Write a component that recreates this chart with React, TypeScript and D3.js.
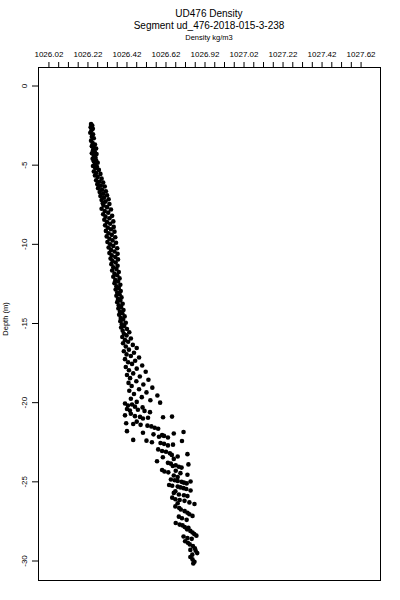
import React from "react";
import * as d3 from "d3";

// density profile, [depth m, density kg/m3]
const profileTop: [number, number][] = [
  [-2.4, 1026.236], [-2.5, 1026.242], [-2.6, 1026.234], [-2.7, 1026.245], [-2.8, 1026.238],
  [-2.95, 1026.232], [-3.05, 1026.246], [-3.2, 1026.24], [-3.3, 1026.25], [-3.45, 1026.236],
  [-3.6, 1026.244], [-3.7, 1026.256], [-3.8, 1026.24], [-3.9, 1026.25], [-3.95, 1026.262],
  [-4.05, 1026.246], [-4.15, 1026.255], [-4.25, 1026.24], [-4.3, 1026.264], [-4.4, 1026.25],
  [-4.5, 1026.258], [-4.6, 1026.244], [-4.7, 1026.262], [-4.75, 1026.25], [-4.85, 1026.27],
  [-4.95, 1026.255], [-5.05, 1026.246], [-5.1, 1026.266], [-5.2, 1026.258], [-5.3, 1026.276],
  [-5.4, 1026.25], [-5.5, 1026.262], [-5.55, 1026.284], [-5.65, 1026.256], [-5.75, 1026.27],
  [-5.85, 1026.29], [-5.95, 1026.262], [-6.05, 1026.278], [-6.1, 1026.298], [-6.2, 1026.268],
  [-6.3, 1026.286], [-6.35, 1026.306], [-6.45, 1026.272], [-6.55, 1026.292], [-6.65, 1026.312],
  [-6.7, 1026.28], [-6.8, 1026.298], [-6.9, 1026.318], [-6.95, 1026.284], [-7.05, 1026.302],
  [-7.15, 1026.326], [-7.2, 1026.29], [-7.3, 1026.31], [-7.4, 1026.296], [-7.45, 1026.33],
  [-7.55, 1026.3], [-7.65, 1026.318], [-7.75, 1026.29], [-7.8, 1026.338], [-7.9, 1026.306],
  [-8.0, 1026.324], [-8.1, 1026.298], [-8.2, 1026.344], [-8.25, 1026.31], [-8.35, 1026.33],
  [-8.45, 1026.304], [-8.55, 1026.35], [-8.6, 1026.318], [-8.7, 1026.334], [-8.8, 1026.308],
  [-8.9, 1026.352], [-8.95, 1026.322], [-9.05, 1026.338], [-9.15, 1026.312], [-9.2, 1026.356],
  [-9.3, 1026.326], [-9.4, 1026.342], [-9.5, 1026.316], [-9.55, 1026.36], [-9.65, 1026.33],
  [-9.75, 1026.346], [-9.85, 1026.32], [-9.9, 1026.364], [-10.0, 1026.334], [-10.1, 1026.35],
  [-10.2, 1026.326], [-10.25, 1026.37], [-10.35, 1026.338], [-10.45, 1026.356], [-10.55, 1026.33],
  [-10.6, 1026.372], [-10.7, 1026.342], [-10.8, 1026.36], [-10.9, 1026.336], [-10.95, 1026.374],
  [-11.05, 1026.346],
];

const profileMid: [number, number][] = [
  [-11.15, 1026.362], [-11.25, 1026.34], [-11.35, 1026.372], [-11.45, 1026.35], [-11.55, 1026.366],
  [-11.65, 1026.344], [-11.75, 1026.378], [-11.85, 1026.356], [-11.95, 1026.37], [-12.05, 1026.35],
  [-12.15, 1026.382], [-12.25, 1026.36], [-12.35, 1026.374], [-12.45, 1026.356], [-12.55, 1026.386],
  [-12.65, 1026.366], [-12.75, 1026.378], [-12.85, 1026.362], [-12.95, 1026.388], [-13.05, 1026.37],
  [-13.15, 1026.382], [-13.25, 1026.366], [-13.35, 1026.392], [-13.45, 1026.374], [-13.55, 1026.386],
  [-13.65, 1026.37], [-13.75, 1026.398], [-13.85, 1026.378], [-13.95, 1026.39], [-14.05, 1026.376],
  [-14.15, 1026.402], [-14.25, 1026.384], [-14.35, 1026.396], [-14.45, 1026.38], [-14.55, 1026.408],
  [-14.65, 1026.388], [-14.75, 1026.4], [-14.85, 1026.386], [-14.95, 1026.414], [-15.05, 1026.394],
  [-15.15, 1026.406], [-15.25, 1026.39], [-15.35, 1026.42], [-15.45, 1026.398], [-15.55, 1026.432],
  [-15.65, 1026.404], [-15.75, 1026.418], [-15.85, 1026.396], [-15.95, 1026.44], [-16.05, 1026.41],
  [-16.15, 1026.426], [-16.25, 1026.4], [-16.35, 1026.45], [-16.45, 1026.414], [-16.55, 1026.47],
  [-16.65, 1026.43], [-16.75, 1026.404], [-16.85, 1026.456], [-16.95, 1026.418], [-17.05, 1026.44],
  [-17.15, 1026.482], [-17.25, 1026.41], [-17.35, 1026.462], [-17.45, 1026.426], [-17.55, 1026.446],
  [-17.65, 1026.498], [-17.75, 1026.414], [-17.85, 1026.47], [-17.95, 1026.43], [-18.05, 1026.516],
  [-18.15, 1026.452], [-18.25, 1026.42], [-18.35, 1026.486], [-18.45, 1026.436], [-18.55, 1026.53],
  [-18.65, 1026.468], [-18.75, 1026.428], [-18.85, 1026.504], [-18.95, 1026.444], [-19.05, 1026.55],
  [-19.15, 1026.482], [-19.25, 1026.432], [-19.35, 1026.52], [-19.45, 1026.456], [-19.55, 1026.576],
  [-19.65, 1026.496], [-19.75, 1026.44], [-19.85, 1026.54], [-19.95, 1026.47], [-20.0, 1026.59],
];

const profileDeep: [number, number][] = [
  [-20.05, 1026.41], [-20.12, 1026.446], [-20.18, 1026.425], [-20.25, 1026.461], [-20.3, 1026.5],
  [-20.4, 1026.42], [-20.45, 1026.476], [-20.5, 1026.435], [-20.52, 1026.51], [-20.6, 1026.538],
  [-20.8, 1026.41], [-20.85, 1026.461], [-20.9, 1026.487], [-20.7, 1026.44], [-20.95, 1026.528],
  [-20.92, 1026.605], [-20.88, 1026.651], [-21.0, 1026.502],
  [-21.3, 1026.416], [-21.35, 1026.452], [-21.2, 1026.47], [-21.45, 1026.525], [-21.5, 1026.545],
  [-21.58, 1026.562], [-21.65, 1026.58], [-21.4, 1026.49],
  [-21.8, 1026.42], [-21.9, 1026.502], [-22.0, 1026.556], [-22.05, 1026.6], [-22.1, 1026.61],
  [-22.2, 1026.63], [-21.95, 1026.66], [-21.85, 1026.71], [-22.15, 1026.584],
  [-22.35, 1026.452], [-22.4, 1026.52], [-22.5, 1026.548], [-22.55, 1026.592], [-22.6, 1026.61],
  [-22.7, 1026.63], [-22.42, 1026.702], [-22.65, 1026.656],
  [-22.95, 1026.58], [-23.05, 1026.6], [-23.1, 1026.62], [-23.2, 1026.64], [-23.3, 1026.65],
  [-23.4, 1026.68], [-23.25, 1026.73], [-23.45, 1026.604], [-23.55, 1026.66],
  [-23.7, 1026.574], [-23.8, 1026.63], [-23.85, 1026.645], [-23.95, 1026.67], [-24.05, 1026.686],
  [-24.1, 1026.7], [-23.9, 1026.735], [-24.0, 1026.655],
  [-24.25, 1026.6], [-24.35, 1026.612], [-24.4, 1026.632], [-24.3, 1026.67], [-24.45, 1026.694],
  [-24.55, 1026.73], [-24.6, 1026.66], [-24.7, 1026.68],
  [-24.85, 1026.645], [-24.9, 1026.665], [-24.95, 1026.68], [-25.0, 1026.7], [-25.05, 1026.712],
  [-25.1, 1026.726], [-24.98, 1026.746],
  [-25.2, 1026.636], [-25.25, 1026.652], [-25.3, 1026.68], [-25.35, 1026.694], [-25.4, 1026.71],
  [-25.45, 1026.724], [-25.55, 1026.746], [-25.6, 1026.668],
  [-25.7, 1026.66], [-25.8, 1026.686], [-25.85, 1026.712], [-25.9, 1026.73],
  [-26.0, 1026.652], [-26.1, 1026.668], [-26.15, 1026.69], [-26.2, 1026.715], [-26.3, 1026.74],
  [-26.4, 1026.766], [-26.35, 1026.68],
  [-26.55, 1026.668], [-26.65, 1026.688], [-26.75, 1026.696], [-26.85, 1026.716], [-26.95, 1026.73],
  [-27.05, 1026.74], [-27.15, 1026.756], [-27.3, 1026.702], [-27.4, 1026.726], [-27.2, 1026.686],
  [-27.6, 1026.67], [-27.7, 1026.69], [-27.75, 1026.705], [-27.85, 1026.716], [-27.9, 1026.735],
  [-28.0, 1026.728], [-28.1, 1026.745], [-28.2, 1026.756], [-28.3, 1026.765], [-28.4, 1026.776],
  [-28.55, 1026.73], [-28.6, 1026.752], [-28.45, 1026.71],
  [-28.75, 1026.718], [-28.85, 1026.732], [-28.95, 1026.742], [-29.05, 1026.758], [-29.2, 1026.768],
  [-29.35, 1026.772], [-29.5, 1026.78], [-29.3, 1026.745], [-29.6, 1026.755],
  [-29.75, 1026.745], [-29.9, 1026.756], [-30.05, 1026.766], [-30.15, 1026.76],
];

const xTickValues = [1026.02, 1026.22, 1026.42, 1026.62, 1026.82, 1027.02, 1027.22, 1027.42, 1027.62];
const xTickLabels = ["1026.02", "1026.22", "1026.42", "1026.62", "1026.92", "1027.02", "1027.22", "1027.42", "1027.62"];
const yTickValues = [0, -5, -10, -15, -20, -25, -30];

const title = "UD476 Density";
const subtitle = "Segment ud_476-2018-015-3-238";
const xLabel = "Density kg/m3";
const yLabel = "Depth (m)";

const W = 400;
const H = 600;
const box = { left: 38, right: 380, top: 67, bottom: 580 };
const font = "'Liberation Sans', Arial, sans-serif";

export default function App() {
  const x = d3.scaleLinear().domain([1025.964, 1027.717]).range([box.left, box.right]);
  const y = d3.scaleLinear().domain([1.2, -31.2]).range([box.top, box.bottom]);

  const minorTicks = d3.range(0, 33).map((i) => 1026.02 + i * 0.05);
  const points = [...profileTop, ...profileMid, ...profileDeep];

  return (
    <svg
      width={W}
      height={H}
      style={{ position: "absolute", left: 0, top: 0, background: "#fff" }}
      fontFamily={font}
    >
      <rect x={0} y={0} width={W} height={H} fill="#fff" />
      <text x={(box.left + box.right) / 2} y={17} textAnchor="middle" fontSize={10}>
        {title}
      </text>
      <text x={(box.left + box.right) / 2} y={29} textAnchor="middle" fontSize={10}>
        {subtitle}
      </text>
      <text x={(box.left + box.right) / 2} y={40} textAnchor="middle" fontSize={7.5}>
        {xLabel}
      </text>

      {/* top axis */}
      {minorTicks.map((v, i) => (
        <line key={i} x1={x(v)} x2={x(v)} y1={box.top} y2={box.top - 5} stroke="#000" strokeWidth={1} />
      ))}
      {xTickValues.map((v, i) => (
        <text key={i} x={x(v)} y={57} textAnchor="middle" fontSize={8}>
          {xTickLabels[i]}
        </text>
      ))}

      {/* left axis */}
      {yTickValues.map((v) => (
        <g key={v}>
          <line x1={box.left - 6} x2={box.left} y1={y(v)} y2={y(v)} stroke="#000" />
          <text
            transform={`translate(27,${y(v)}) rotate(-90)`}
            textAnchor="middle"
            fontSize={8}
          >
            {v}
          </text>
        </g>
      ))}
      <text transform={`translate(8,319) rotate(-90)`} textAnchor="middle" fontSize={7.5}>
        {yLabel}
      </text>

      <rect
        x={box.left + 0.5}
        y={box.top + 0.5}
        width={box.right - box.left}
        height={box.bottom - box.top}
        fill="none"
        stroke="#000"
      />

      {points.map((p, i) => (
        <circle key={i} cx={x(p[1])} cy={y(p[0])} r={2.3} fill="#000" />
      ))}
    </svg>
  );
}
